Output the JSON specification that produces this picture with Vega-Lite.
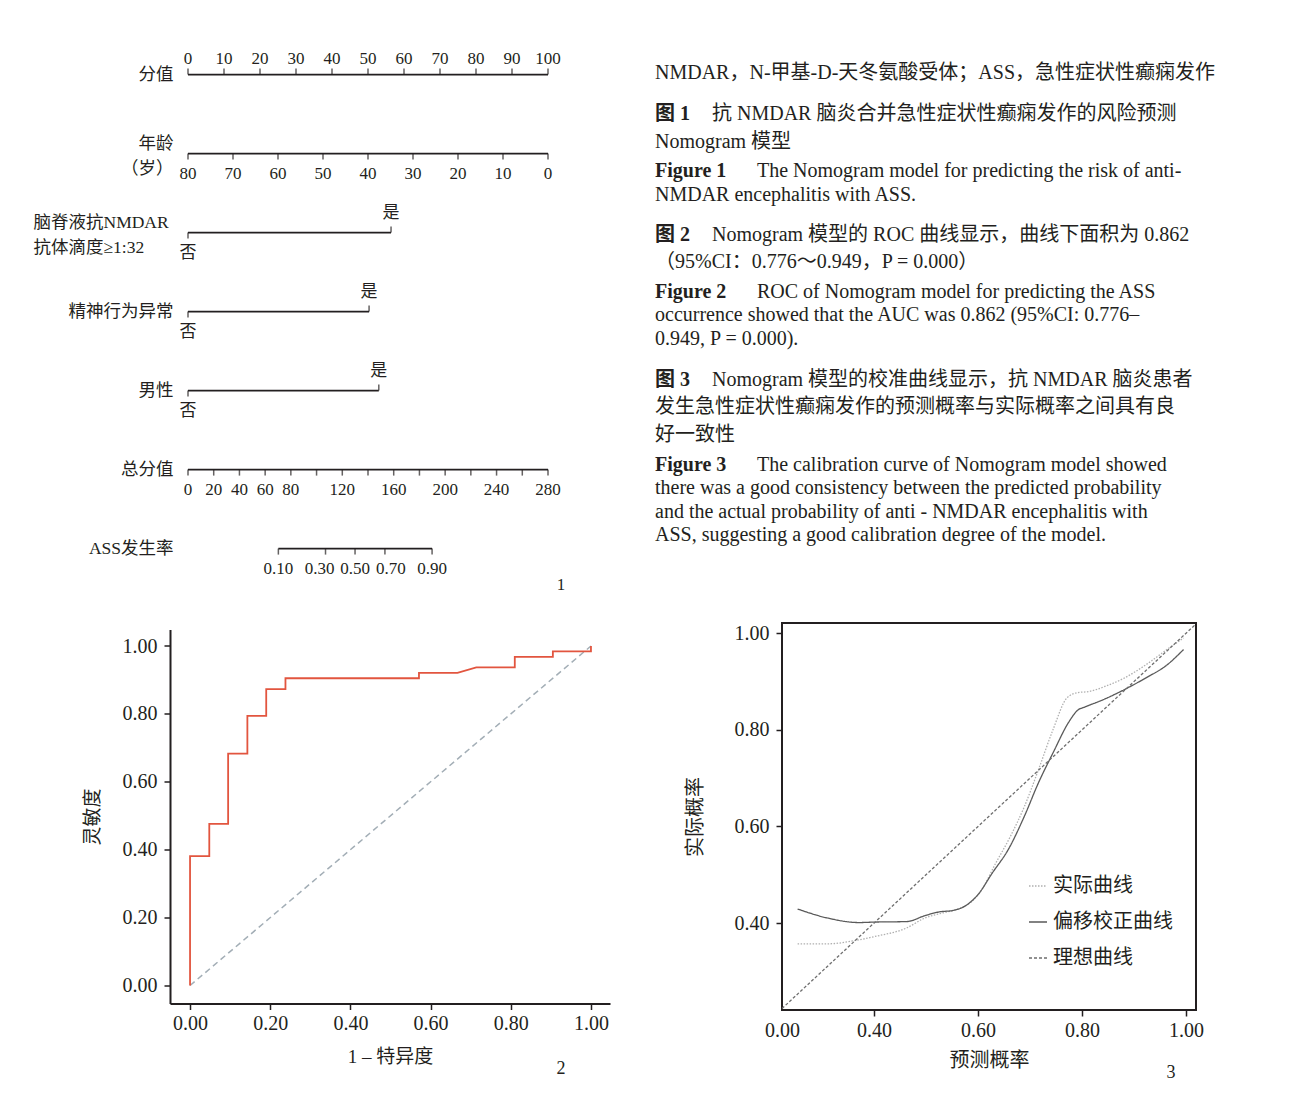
{
  "$schema": "https://vega.github.io/schema/vega-lite/v6.json",
  "background": "white",
  "padding": {"left": 33, "top": 43, "right": 10, "bottom": 10},
  "config": {
    "font": "Liberation Serif, Noto Sans CJK SC",
    "view": {"stroke": null},
    "axis": {"grid": false, "labelColor": "#231f20", "titleColor": "#231f20", "tickColor": "#231f20", "domainColor": "#231f20", "titleFontWeight": "normal", "labelFlush": false, "labelOverlap": false}
  },
  "datasets": {
    "nomoLines": [
      {"row": 0, "start": 0, "end": 100},
      {"row": 1, "start": 0, "end": 100},
      {"row": 2, "start": 0, "end": 56.4},
      {"row": 3, "start": 0, "end": 50.3},
      {"row": 4, "start": 0, "end": 53.0},
      {"row": 5, "start": 0, "end": 100},
      {"row": 6, "start": 25.1, "end": 67.8}
    ],
    "nomoTicks": [
      {"row": 0, "pts": 0, "label": "0", "kind": "top"},
      {"row": 0, "pts": 10, "label": "10", "kind": "top"},
      {"row": 0, "pts": 20, "label": "20", "kind": "top"},
      {"row": 0, "pts": 30, "label": "30", "kind": "top"},
      {"row": 0, "pts": 40, "label": "40", "kind": "top"},
      {"row": 0, "pts": 50, "label": "50", "kind": "top"},
      {"row": 0, "pts": 60, "label": "60", "kind": "top"},
      {"row": 0, "pts": 70, "label": "70", "kind": "top"},
      {"row": 0, "pts": 80, "label": "80", "kind": "top"},
      {"row": 0, "pts": 90, "label": "90", "kind": "top"},
      {"row": 0, "pts": 100, "label": "100", "kind": "top"},
      {"row": 1, "pts": 0, "label": "80", "kind": "age"},
      {"row": 1, "pts": 12.5, "label": "70", "kind": "age"},
      {"row": 1, "pts": 25, "label": "60", "kind": "age"},
      {"row": 1, "pts": 37.5, "label": "50", "kind": "age"},
      {"row": 1, "pts": 50, "label": "40", "kind": "age"},
      {"row": 1, "pts": 62.5, "label": "30", "kind": "age"},
      {"row": 1, "pts": 75, "label": "20", "kind": "age"},
      {"row": 1, "pts": 87.5, "label": "10", "kind": "age"},
      {"row": 1, "pts": 100, "label": "0", "kind": "age"},
      {"row": 2, "pts": 0, "label": "否", "kind": "no"},
      {"row": 2, "pts": 56.4, "label": "是", "kind": "yes"},
      {"row": 3, "pts": 0, "label": "否", "kind": "no"},
      {"row": 3, "pts": 50.3, "label": "是", "kind": "yes"},
      {"row": 4, "pts": 0, "label": "否", "kind": "no"},
      {"row": 4, "pts": 53.0, "label": "是", "kind": "yes"},
      {"row": 5, "pts": 0, "label": "0", "kind": "total"},
      {"row": 5, "pts": 7.14, "label": "20", "kind": "total"},
      {"row": 5, "pts": 14.29, "label": "40", "kind": "total"},
      {"row": 5, "pts": 21.43, "label": "60", "kind": "total"},
      {"row": 5, "pts": 28.57, "label": "80", "kind": "total"},
      {"row": 5, "pts": 35.71, "label": "", "kind": "total"},
      {"row": 5, "pts": 42.86, "label": "120", "kind": "total"},
      {"row": 5, "pts": 50, "label": "", "kind": "total"},
      {"row": 5, "pts": 57.14, "label": "160", "kind": "total"},
      {"row": 5, "pts": 64.29, "label": "", "kind": "total"},
      {"row": 5, "pts": 71.43, "label": "200", "kind": "total"},
      {"row": 5, "pts": 78.57, "label": "", "kind": "total"},
      {"row": 5, "pts": 85.71, "label": "240", "kind": "total"},
      {"row": 5, "pts": 92.86, "label": "", "kind": "total"},
      {"row": 5, "pts": 100, "label": "280", "kind": "total"},
      {"row": 6, "pts": 25.1, "label": "0.10", "kind": "prob"},
      {"row": 6, "pts": 38.2, "label": "0.30", "kind": "prob"},
      {"row": 6, "pts": 46.4, "label": "0.50", "kind": "prob"},
      {"row": 6, "pts": 54.7, "label": "0.70", "kind": "prob"},
      {"row": 6, "pts": 67.8, "label": "0.90", "kind": "prob"}
    ],
    "caption": [
      {"line": 1.22, "kind": "plain", "text": "NMDAR，N-甲基-D-天冬氨酸受体；ASS，急性症状性癫痫发作"},
      {"line": 2.89, "kind": "label", "text": "图 1"},
      {"line": 2.89, "kind": "cnbody", "text": "抗 NMDAR 脑炎合并急性症状性癫痫发作的风险预测"},
      {"line": 4.03, "kind": "plain", "text": "Nomogram 模型"},
      {"line": 5.21, "kind": "label", "text": "Figure 1"},
      {"line": 5.21, "kind": "enbody", "text": "The Nomogram model for predicting the risk of anti-"},
      {"line": 6.18, "kind": "plain", "text": "NMDAR encephalitis with ASS."},
      {"line": 7.81, "kind": "label", "text": "图 2"},
      {"line": 7.81, "kind": "cnbody", "text": "Nomogram 模型的 ROC 曲线显示，曲线下面积为 0.862"},
      {"line": 8.91, "kind": "plain", "text": "（95%CI：0.776～0.949，P = 0.000）"},
      {"line": 10.13, "kind": "label", "text": "Figure 2"},
      {"line": 10.13, "kind": "enbody", "text": "ROC of Nomogram model for predicting the ASS"},
      {"line": 11.07, "kind": "plain", "text": "occurrence showed that the AUC was 0.862 (95%CI: 0.776–"},
      {"line": 12.04, "kind": "plain", "text": "0.949, P = 0.000)."},
      {"line": 13.71, "kind": "label", "text": "图 3"},
      {"line": 13.71, "kind": "cnbody", "text": "Nomogram 模型的校准曲线显示，抗 NMDAR 脑炎患者"},
      {"line": 14.81, "kind": "plain", "text": "发生急性症状性癫痫发作的预测概率与实际概率之间具有良"},
      {"line": 15.95, "kind": "plain", "text": "好一致性"},
      {"line": 17.17, "kind": "label", "text": "Figure 3"},
      {"line": 17.17, "kind": "enbody", "text": "The calibration curve of Nomogram model showed"},
      {"line": 18.11, "kind": "plain", "text": "there was a good consistency between the predicted probability"},
      {"line": 19.08, "kind": "plain", "text": "and the actual probability of anti - NMDAR encephalitis with"},
      {"line": 20.02, "kind": "plain", "text": "ASS, suggesting a good calibration degree of the model."}
    ],
    "roc": [
      {"i": 0, "fpr": 0, "tpr": 0},
      {"i": 1, "fpr": 0, "tpr": 0.381},
      {"i": 2, "fpr": 0.048, "tpr": 0.381},
      {"i": 3, "fpr": 0.048, "tpr": 0.476},
      {"i": 4, "fpr": 0.095, "tpr": 0.476},
      {"i": 5, "fpr": 0.095, "tpr": 0.683},
      {"i": 6, "fpr": 0.143, "tpr": 0.683},
      {"i": 7, "fpr": 0.143, "tpr": 0.794},
      {"i": 8, "fpr": 0.19, "tpr": 0.794},
      {"i": 9, "fpr": 0.19, "tpr": 0.873},
      {"i": 10, "fpr": 0.238, "tpr": 0.873},
      {"i": 11, "fpr": 0.238, "tpr": 0.905},
      {"i": 12, "fpr": 0.571, "tpr": 0.905},
      {"i": 13, "fpr": 0.571, "tpr": 0.921},
      {"i": 14, "fpr": 0.667, "tpr": 0.921},
      {"i": 15, "fpr": 0.714, "tpr": 0.937},
      {"i": 16, "fpr": 0.81, "tpr": 0.937},
      {"i": 17, "fpr": 0.81, "tpr": 0.968},
      {"i": 18, "fpr": 0.905, "tpr": 0.968},
      {"i": 19, "fpr": 0.905, "tpr": 0.984},
      {"i": 20, "fpr": 1.0, "tpr": 0.984},
      {"i": 21, "fpr": 1.0, "tpr": 1.0}
    ],
    "diag": [{"fpr": 0, "tpr": 0}, {"fpr": 1, "tpr": 1}],
    "calib": [
      {"series": "实际曲线", "pred": 0.253, "obs": 0.357},
      {"series": "实际曲线", "pred": 0.312, "obs": 0.357},
      {"series": "实际曲线", "pred": 0.36, "obs": 0.363},
      {"series": "实际曲线", "pred": 0.401, "obs": 0.372},
      {"series": "实际曲线", "pred": 0.463, "obs": 0.39},
      {"series": "实际曲线", "pred": 0.497, "obs": 0.41},
      {"series": "实际曲线", "pred": 0.532, "obs": 0.421},
      {"series": "实际曲线", "pred": 0.559, "obs": 0.428},
      {"series": "实际曲线", "pred": 0.586, "obs": 0.443},
      {"series": "实际曲线", "pred": 0.607, "obs": 0.469},
      {"series": "实际曲线", "pred": 0.634, "obs": 0.524},
      {"series": "实际曲线", "pred": 0.662, "obs": 0.579},
      {"series": "实际曲线", "pred": 0.689, "obs": 0.641},
      {"series": "实际曲线", "pred": 0.716, "obs": 0.717},
      {"series": "实际曲线", "pred": 0.744, "obs": 0.8},
      {"series": "实际曲线", "pred": 0.771, "obs": 0.866},
      {"series": "实际曲线", "pred": 0.792, "obs": 0.877},
      {"series": "实际曲线", "pred": 0.812, "obs": 0.879},
      {"series": "实际曲线", "pred": 0.847, "obs": 0.891},
      {"series": "实际曲线", "pred": 0.881, "obs": 0.907},
      {"series": "实际曲线", "pred": 0.922, "obs": 0.934},
      {"series": "实际曲线", "pred": 0.963, "obs": 0.966},
      {"series": "实际曲线", "pred": 0.995, "obs": 0.99},
      {"series": "偏移校正曲线", "pred": 0.253, "obs": 0.429},
      {"series": "偏移校正曲线", "pred": 0.312, "obs": 0.41},
      {"series": "偏移校正曲线", "pred": 0.371, "obs": 0.401},
      {"series": "偏移校正曲线", "pred": 0.401, "obs": 0.402},
      {"series": "偏移校正曲线", "pred": 0.463, "obs": 0.403},
      {"series": "偏移校正曲线", "pred": 0.497, "obs": 0.415},
      {"series": "偏移校正曲线", "pred": 0.525, "obs": 0.423},
      {"series": "偏移校正曲线", "pred": 0.552, "obs": 0.426},
      {"series": "偏移校正曲线", "pred": 0.579, "obs": 0.438},
      {"series": "偏移校正曲线", "pred": 0.6, "obs": 0.459},
      {"series": "偏移校正曲线", "pred": 0.627, "obs": 0.503},
      {"series": "偏移校正曲线", "pred": 0.658, "obs": 0.552},
      {"series": "偏移校正曲线", "pred": 0.689, "obs": 0.621},
      {"series": "偏移校正曲线", "pred": 0.716, "obs": 0.69},
      {"series": "偏移校正曲线", "pred": 0.744, "obs": 0.752},
      {"series": "偏移校正曲线", "pred": 0.775, "obs": 0.817},
      {"series": "偏移校正曲线", "pred": 0.792, "obs": 0.841},
      {"series": "偏移校正曲线", "pred": 0.805, "obs": 0.847},
      {"series": "偏移校正曲线", "pred": 0.84, "obs": 0.862},
      {"series": "偏移校正曲线", "pred": 0.881, "obs": 0.883},
      {"series": "偏移校正曲线", "pred": 0.922, "obs": 0.907},
      {"series": "偏移校正曲线", "pred": 0.963, "obs": 0.934},
      {"series": "偏移校正曲线", "pred": 0.995, "obs": 0.966},
      {"series": "理想曲线", "pred": 0.223, "obs": 0.223},
      {"series": "理想曲线", "pred": 1.019, "obs": 1.019}
    ]
  },
  "spacing": 24,
  "vconcat": [
    {
      "bounds": "flush",
      "spacing": 85,
      "hconcat": [
        {
          "width": 400,
          "height": 553,
          "layer": [
            {
              "data": {"name": "nomoLines"},
              "mark": {"type": "rule", "color": "#231f20", "strokeWidth": 1.8},
              "encoding": {
                "x": {"field": "start", "type": "quantitative", "scale": {"domain": [-5, 106.11], "nice": false, "zero": false}, "axis": null},
                "x2": {"field": "end"},
                "y": {
                  "field": "row", "type": "quantitative",
                  "scale": {"domain": [-0.4, 6.6], "nice": false, "zero": false, "reverse": true},
                  "axis": {
                    "values": [0, 1, 2, 3, 4, 5, 6],
                    "labelExpr": "[['分值'], ['年龄', '（岁）'], ['脑脊液抗NMDAR', '抗体滴度≥1:32'], ['精神行为异常'], ['男性'], ['总分值'], ['ASS发生率']][datum.value]",
                    "title": null, "domain": false, "ticks": false,
                    "labelFontSize": 17.5, "labelLineHeight": 25, "labelBaseline": "middle",
                    "labelAlign": {"condition": {"test": "datum.value == 2", "value": "left"}, "value": "right"},
                    "labelPadding": {"condition": {"test": "datum.value == 2", "value": 137}, "value": -3},
                    "labelOffset": {"condition": {"test": "datum.value == 1 || datum.value == 2", "value": -10}, "value": 0}
                  }
                }
              }
            },
            {
              "data": {"name": "nomoTicks"},
              "transform": [{"filter": "datum.kind == 'top' || datum.kind == 'yes'"}],
              "mark": {"type": "tick", "orient": "vertical", "size": 6, "thickness": 1.5, "yOffset": -3, "color": "#231f20"},
              "encoding": {"x": {"field": "pts", "type": "quantitative"}, "y": {"field": "row", "type": "quantitative"}}
            },
            {
              "data": {"name": "nomoTicks"},
              "transform": [{"filter": "datum.kind != 'top' && datum.kind != 'yes'"}],
              "mark": {"type": "tick", "orient": "vertical", "size": 6, "thickness": 1.5, "yOffset": 3, "color": "#231f20"},
              "encoding": {"x": {"field": "pts", "type": "quantitative"}, "y": {"field": "row", "type": "quantitative"}}
            },
            {
              "data": {"name": "nomoTicks"},
              "transform": [{"filter": "datum.kind == 'top'"}],
              "mark": {"type": "text", "fontSize": 17, "dy": -16, "color": "#231f20"},
              "encoding": {"x": {"field": "pts", "type": "quantitative"}, "y": {"field": "row", "type": "quantitative"}, "text": {"field": "label"}}
            },
            {
              "data": {"name": "nomoTicks"},
              "transform": [{"filter": "datum.kind == 'yes'"}],
              "mark": {"type": "text", "fontSize": 17, "dy": -20, "color": "#231f20"},
              "encoding": {"x": {"field": "pts", "type": "quantitative"}, "y": {"field": "row", "type": "quantitative"}, "text": {"field": "label"}}
            },
            {
              "data": {"name": "nomoTicks"},
              "transform": [{"filter": "datum.kind == 'age' || datum.kind == 'total' || datum.label == '0.10' || datum.label == '0.50' || datum.label == '0.90'"}],
              "mark": {"type": "text", "fontSize": 17, "dy": 20, "color": "#231f20"},
              "encoding": {"x": {"field": "pts", "type": "quantitative"}, "y": {"field": "row", "type": "quantitative"}, "text": {"field": "label"}}
            },
            {
              "data": {"name": "nomoTicks"},
              "transform": [{"filter": "datum.kind == 'no'"}],
              "mark": {"type": "text", "fontSize": 17, "dy": 20, "color": "#231f20"},
              "encoding": {"x": {"field": "pts", "type": "quantitative"}, "y": {"field": "row", "type": "quantitative"}, "text": {"field": "label"}}
            },
            {
              "data": {"name": "nomoTicks"},
              "transform": [{"filter": "datum.label == '0.30'"}],
              "mark": {"type": "text", "fontSize": 17, "dy": 20, "dx": -6, "color": "#231f20"},
              "encoding": {"x": {"field": "pts", "type": "quantitative"}, "y": {"field": "row", "type": "quantitative"}, "text": {"field": "label"}}
            },
            {
              "data": {"name": "nomoTicks"},
              "transform": [{"filter": "datum.label == '0.70'"}],
              "mark": {"type": "text", "fontSize": 17, "dy": 20, "dx": 6, "color": "#231f20"},
              "encoding": {"x": {"field": "pts", "type": "quantitative"}, "y": {"field": "row", "type": "quantitative"}, "text": {"field": "label"}}
            },
            {
              "data": {"values": [{"pts": 103.6, "row": 6.46, "n": "1"}]},
              "mark": {"type": "text", "fontSize": 17, "color": "#231f20"},
              "encoding": {"x": {"field": "pts", "type": "quantitative"}, "y": {"field": "row", "type": "quantitative"}, "text": {"field": "n"}}
            }
          ]
        },
        {
          "width": 555,
          "height": 553,
          "data": {"name": "caption"},
          "encoding": {
            "x": {"datum": 0, "type": "quantitative", "scale": {"domain": [0, 1]}, "axis": null},
            "y": {"field": "line", "type": "quantitative", "scale": {"domain": [0, 22.5], "nice": false, "reverse": true}, "axis": null},
            "text": {"field": "text"}
          },
          "layer": [
            {"transform": [{"filter": "datum.kind == 'plain'"}], "mark": {"type": "text", "align": "left", "baseline": "middle", "fontSize": 20, "color": "#231f20"}},
            {"transform": [{"filter": "datum.kind == 'label'"}], "mark": {"type": "text", "align": "left", "baseline": "middle", "fontSize": 20, "fontWeight": "bold", "color": "#231f20"}},
            {"transform": [{"filter": "datum.kind == 'cnbody'"}], "mark": {"type": "text", "align": "left", "baseline": "middle", "fontSize": 20, "dx": 57, "color": "#231f20"}},
            {"transform": [{"filter": "datum.kind == 'enbody'"}], "mark": {"type": "text", "align": "left", "baseline": "middle", "fontSize": 20, "dx": 102, "color": "#231f20"}}
          ]
        }
      ]
    },
    {
      "bounds": "flush",
      "center": true,
      "spacing": 172,
      "hconcat": [
        {
          "width": 440,
          "height": 374,
          "layer": [
            {
              "data": {"name": "diag"},
              "mark": {"type": "line", "color": "#a3aeb6", "strokeDash": [6, 4], "strokeWidth": 1.5},
              "encoding": {
                "x": {
                  "field": "fpr", "type": "quantitative",
                  "scale": {"domain": [-0.05, 1.0475], "nice": false, "zero": false},
                  "axis": {"values": [0, 0.2, 0.4, 0.6, 0.8, 1], "format": ".2f", "title": "1 – 特异度", "labelFontSize": 20, "titleFontSize": 19, "tickSize": 6, "tickWidth": 1.5, "domainWidth": 2, "labelPadding": 4, "titlePadding": 14}
                },
                "y": {
                  "field": "tpr", "type": "quantitative",
                  "scale": {"domain": [-0.053, 1.0486], "nice": false, "zero": false},
                  "axis": {"values": [0, 0.2, 0.4, 0.6, 0.8, 1], "format": ".2f", "title": "灵敏度", "labelFontSize": 20, "titleFontSize": 19, "tickSize": 6, "tickWidth": 1.5, "domainWidth": 2, "labelPadding": 7, "titlePadding": 20}
                }
              }
            },
            {
              "data": {"name": "roc"},
              "mark": {"type": "line", "color": "#e2553f", "strokeWidth": 1.8},
              "encoding": {
                "x": {"field": "fpr", "type": "quantitative"},
                "y": {"field": "tpr", "type": "quantitative"},
                "order": {"field": "i", "type": "quantitative"}
              }
            },
            {
              "data": {"values": [{"fpr": 0.925, "tpr": -0.247, "n": "2"}]},
              "mark": {"type": "text", "fontSize": 18, "color": "#231f20"},
              "encoding": {"x": {"field": "fpr", "type": "quantitative"}, "y": {"field": "tpr", "type": "quantitative"}, "text": {"field": "n"}}
            }
          ]
        },
        {
          "width": 414,
          "height": 387,
          "view": {"stroke": "#231f20", "strokeWidth": 2},
          "layer": [
            {
              "data": {"name": "calib"},
              "mark": {"type": "line", "interpolate": "monotone"},
              "encoding": {
                "x": {
                  "field": "pred", "type": "quantitative",
                  "scale": {"domain": [0.223, 1.019], "nice": false, "zero": false},
                  "axis": {"values": [0.223, 0.4, 0.6, 0.8, 1], "labelExpr": "datum.value < 0.3 ? '0.00' : format(datum.value, '.2f')", "domain": false, "tickSize": 6, "tickWidth": 1.5, "tickOpacity": {"condition": {"test": "datum.value < 0.3", "value": 0}, "value": 1}, "labelFontSize": 20, "labelPadding": 4, "title": "预测概率", "titleFontSize": 20, "titlePadding": 10}
                },
                "y": {
                  "field": "obs", "type": "quantitative",
                  "scale": {"domain": [0.22, 1.021], "nice": false, "zero": false},
                  "axis": {"values": [0.4, 0.6, 0.8, 1], "format": ".2f", "domain": false, "tickSize": 6, "tickWidth": 1.5, "labelFontSize": 20, "labelPadding": 7, "title": "实际概率", "titleFontSize": 20, "titlePadding": 29}
                },
                "color": {
                  "field": "series", "type": "nominal",
                  "scale": {"domain": ["实际曲线", "偏移校正曲线", "理想曲线"], "range": ["#b0b0b0", "#5a5a5a", "#6e6e6e"]},
                  "legend": {"orient": "none", "legendX": 858, "legendY": 833, "title": null, "labelFontSize": 20, "labelColor": "#231f20", "symbolType": "stroke", "symbolSize": 324, "symbolStrokeWidth": 1.3, "rowPadding": 16, "labelOffset": 5, "padding": 0}
                },
                "strokeDash": {
                  "field": "series", "type": "nominal",
                  "scale": {"domain": ["实际曲线", "偏移校正曲线", "理想曲线"], "range": [[1.5, 1.5], [1, 0], [3, 2]]},
                  "legend": {"orient": "none", "legendX": 858, "legendY": 833, "title": null, "labelFontSize": 20, "labelColor": "#231f20", "symbolType": "stroke", "symbolSize": 324, "symbolStrokeWidth": 1.3, "rowPadding": 16, "labelOffset": 5, "padding": 0}
                },
                "strokeWidth": {
                  "field": "series", "type": "nominal",
                  "scale": {"domain": ["实际曲线", "偏移校正曲线", "理想曲线"], "range": [1.3, 1.3, 0.9]},
                  "legend": null
                }
              }
            },
            {
              "data": {"values": [{"pred": 0.971, "obs": 0.0894, "n": "3"}]},
              "mark": {"type": "text", "fontSize": 18, "color": "#231f20"},
              "encoding": {"x": {"field": "pred", "type": "quantitative"}, "y": {"field": "obs", "type": "quantitative"}, "text": {"field": "n"}}
            }
          ]
        }
      ]
    }
  ]
}
